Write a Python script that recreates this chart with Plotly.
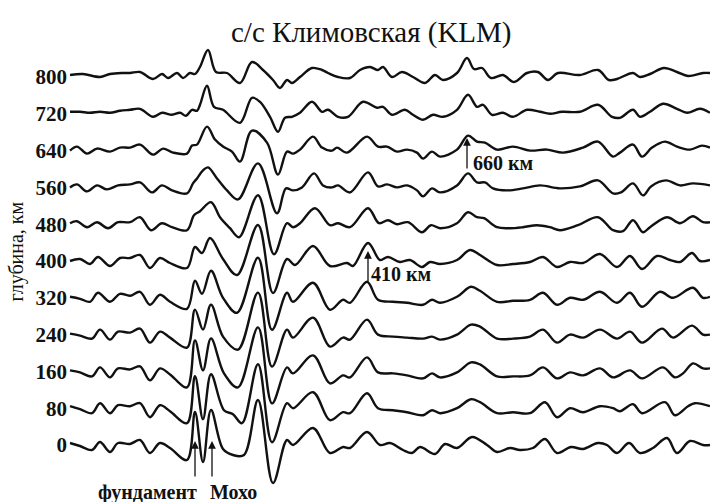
import plotly.graph_objects as go

# Depth labels (km) of the stacked receiver-function traces, top to bottom
DEPTHS = [800, 720, 640, 560, 480, 400, 320, 240, 160, 80, 0]

# Each trace: (time sample, relative amplitude)
TRACE_800 = [(70,2),(83,3),(100,0),(110,3),(123,4),(130,4),(140,5),(153,-2),(162,3),(168,-1),(177,4),(183,-1),(190,4),(195,3),(200,10),(208,27),(216,5),(227,4),(240,-6),(252,15),(263,7),(273,-3),(280,-11),(287,-3),(292,-6),(300,0),(312,9),(322,7),(328,4),(338,0),(350,-1),(360,7),(370,10),(378,7),(383,10),(392,0),(402,5),(413,0),(425,-6),(435,2),(443,-3),(457,4),(467,19),(474,8),(482,9),(491,-1),(503,2),(514,-5),(527,4),(538,5),(548,-3),(558,4),(580,2),(598,7),(609,-3),(617,-2),(633,4),(640,0),(650,3),(664,9),(677,5),(688,1),(703,4),(710,4)]
TRACE_720 = [(70,2),(80,2),(90,1),(100,2),(110,1),(120,3),(130,4),(140,5),(153,-3),(162,1),(172,-1),(180,1),(186,-2),(192,4),(197,3),(200,9),(207,28),(214,7),(223,4),(240,-9),(252,16),(260,12),(270,-3),(278,-18),(285,-4),(292,-3),(300,1),(312,12),(322,2),(328,4),(338,-3),(348,-3),(363,12),(377,6),(383,7),(392,-1),(405,4),(413,-1),(423,-6),(433,-1),(443,-3),(457,4),(468,19),(477,7),(483,9),(492,-1),(503,1),(513,-3),(527,4),(540,2),(550,0),(562,2),(580,2),(598,9),(612,-3),(620,-4),(633,4),(640,-3),(650,2),(663,10),(677,5),(687,1),(700,5),(710,1)]
TRACE_640 = [(70,0),(77,4),(87,-3),(97,2),(110,-1),(120,3),(130,3),(140,6),(153,-4),(163,2),(173,-2),(187,-3),(192,5),(197,6),(207,24),(215,11),(223,4),(232,-1),(240,-11),(252,20),(267,8),(278,-24),(287,-1),(293,-3),(300,1),(313,14),(322,3),(332,0),(337,3),(347,-2),(367,14),(378,4),(387,4),(397,-1),(407,1),(417,-2),(423,-8),(432,-1),(440,-6),(457,1),(468,15),(477,9),(485,8),(497,1),(513,4),(530,0),(547,1),(563,-2),(583,3),(598,9),(613,-6),(620,-2),(633,6),(642,-6),(652,3),(665,9),(677,4),(690,1),(702,5),(710,3)]
TRACE_560 = [(70,0),(77,3),(87,-4),(97,2),(107,-2),(118,2),(130,3),(140,5),(152,-5),(162,2),(172,-3),(187,-6),(193,4),(197,9),(203,17),(208,20),(217,9),(227,-3),(238,-12),(258,24),(277,-26),(286,-1),(293,-3),(302,0),(314,14),(323,2),(332,0),(338,2),(350,-5),(368,15),(378,1),(387,3),(397,0),(407,2),(417,-3),(423,-9),(432,-1),(440,-5),(457,2),(468,14),(477,5),(485,5),(493,-1),(507,-3),(523,-1),(540,2),(560,-1),(580,1),(598,7),(613,-6),(621,-5),(633,4),(643,-8),(651,1),(666,7),(680,2),(693,4),(710,2)]
TRACE_480 = [(70,1),(77,3),(87,-3),(97,2),(108,-4),(118,2),(130,2),(140,7),(151,-6),(162,1),(172,-3),(187,-6),(194,9),(200,13),(211,22),(220,7),(230,-4),(239,-13),(258,29),(274,-30),(287,1),(293,-3),(300,1),(315,16),(330,-1),(338,1),(350,-3),(368,16),(379,1),(388,4),(397,0),(408,2),(422,-8),(431,-1),(440,-4),(457,1),(468,12),(477,7),(484,6),(497,-3),(510,-4),(523,-3),(537,-1),(550,-3),(560,-6),(578,-1),(598,7),(613,-6),(623,-7),(633,4),(643,-8),(650,-3),(667,7),(680,1),(693,8),(703,2),(710,2)]
TRACE_400 = [(70,0),(80,2),(90,-3),(98,4),(110,-5),(120,3),(130,3),(140,6),(150,-7),(160,3),(170,-2),(187,-7),(195,14),(202,8),(210,23),(223,2),(237,-14),(258,36),(273,-32),(287,2),(295,-4),(313,15),(330,-5),(347,-2),(353,-5),(368,18),(380,1),(388,4),(400,-1),(410,1),(422,-6),(430,-1),(440,-3),(457,1),(470,11),(480,6),(497,-4),(513,-3),(530,-1),(543,4),(557,-6),(570,-1),(583,-2),(600,7),(617,-6),(630,5),(642,-8),(657,5),(670,1),(680,-1),(692,8),(700,0),(710,1)]
TRACE_320 = [(70,1),(80,-1),(90,-4),(98,5),(110,-4),(120,4),(130,2),(140,6),(150,-7),(160,3),(170,-4),(187,-11),(195,17),(202,4),(211,27),(223,0),(237,-15),(258,40),(272,-32),(287,5),(293,-4),(313,15),(330,-12),(343,-2),(350,-5),(367,16),(378,-2),(393,-4),(407,-5),(423,-7),(432,-2),(440,-5),(457,1),(471,11),(480,7),(497,-4),(513,-3),(530,-2),(543,5),(557,-7),(570,0),(583,-2),(600,6),(617,-5),(630,5),(642,-9),(660,6),(673,0),(693,10),(703,0),(710,1)]
TRACE_240 = [(70,1),(80,-1),(92,-4),(100,5),(110,-5),(118,3),(130,2),(140,6),(150,-8),(160,3),(170,-3),(187,-13),(195,25),(203,5),(211,30),(223,-2),(238,-15),(258,42),(272,-32),(287,5),(293,-3),(313,17),(330,-12),(343,-3),(350,-5),(367,15),(378,0),(393,-2),(407,-3),(423,-4),(432,-2),(440,-5),(457,0),(471,10),(480,8),(497,-4),(513,-4),(530,-2),(543,5),(557,-8),(570,0),(583,-3),(600,5),(617,-4),(630,3),(642,-8),(662,6),(673,-3),(692,9),(703,0),(710,0)]
TRACE_160 = [(70,1),(80,-1),(92,-5),(100,4),(110,-6),(118,3),(130,2),(140,5),(150,-9),(160,3),(170,-3),(187,-16),(195,31),(203,1),(211,33),(224,-2),(238,-16),(258,44),(272,-32),(287,4),(293,-2),(313,16),(330,-12),(343,-4),(350,-6),(367,14),(378,-1),(393,-2),(407,-4),(423,-7),(432,-2),(440,-6),(457,-1),(471,9),(480,7),(497,-5),(513,-5),(530,-4),(543,4),(557,-7),(570,-1),(583,-4),(600,3),(613,-6),(630,1),(642,-7),(663,4),(675,-6),(683,-2),(693,8),(703,3),(710,3)]
TRACE_80 = [(70,2),(80,-1),(92,-5),(100,5),(110,-5),(118,3),(130,2),(140,5),(150,-9),(160,3),(170,-3),(187,-15),(195,32),(203,-11),(211,34),(224,-2),(233,-6),(242,-15),(258,44),(272,-34),(287,5),(293,0),(313,16),(330,-12),(343,-4),(350,-5),(367,15),(378,0),(393,-2),(407,-4),(423,-7),(432,-2),(440,-5),(457,0),(471,9),(480,6),(497,-5),(513,-4),(530,-5),(545,6),(557,-9),(570,0),(583,-4),(600,2),(613,0),(620,-3),(633,4),(642,-5),(665,6),(675,-7),(688,2),(695,5),(710,2)]
TRACE_0 = [(70,2),(80,-1),(92,-5),(100,3),(110,-7),(118,2),(130,1),(140,5),(150,-8),(160,2),(170,-3),(187,-15),(195,33),(203,-17),(211,35),(223,-4),(233,-10),(244,-10),(258,45),(273,-38),(287,5),(293,0),(313,17),(330,-8),(343,-2),(350,-3),(367,13),(380,0),(390,2),(403,-5),(412,-8),(420,-2),(435,-9),(445,1),(457,-3),(472,8),(487,0),(497,-7),(510,-3),(520,-5),(533,-3),(545,6),(557,-8),(571,-2),(583,-4),(598,2),(607,0),(617,-8),(629,2),(640,-8),(653,-3),(667,7),(677,-8),(690,4),(703,0),(710,0)]

TRACES = [TRACE_800, TRACE_720, TRACE_640, TRACE_560, TRACE_480, TRACE_400,
          TRACE_320, TRACE_240, TRACE_160, TRACE_80, TRACE_0]

TITLE = "с/с Климовская (KLM)"
Y_LABEL = "глубина, км"

# amplitude gain: trace spacing of 80 km corresponds to ~36.8 amplitude units
GAIN = 80 / 36.8
KM_PER_PX = 1 / 0.46

def row(py):
    # convert a screen row (px) to depth-axis value for label placement
    return 800 - (py - 77) * KM_PER_PX

FONT = "Liberation Serif"
def bold(s):
    return "<b>" + s + "</b>"

fig = go.Figure()
for depth, tr in zip(DEPTHS, TRACES):
    fig.add_trace(go.Scatter(
        x=[p[0] for p in tr],
        y=[depth + p[1] * GAIN for p in tr],
        mode="lines",
        line=dict(color="#111111", width=2.4, shape="spline", smoothing=1.0),
        hoverinfo="skip", showlegend=False,
    ))

ann = []
ann.append(dict(x=371, y=row(32), xref="x", yref="y", text=TITLE, showarrow=False,
                font=dict(family=FONT, size=29, color="#111")))
ann.append(dict(x=(17 - 68) / 642, y=row(252), xref="paper", yref="y", text=Y_LABEL,
                textangle=-90, showarrow=False, xshift=-15,
                font=dict(family=FONT, size=20, color="#111")))
# markers
arrow = dict(showarrow=True, arrowhead=2, arrowsize=1.2, arrowwidth=1.3, arrowcolor="#111",
             ax=0, text="", xref="x", yref="y")
ann.append(dict(arrow, x=467, y=row(138), ay=32))
ann.append(dict(x=471, y=row(163), xref="x", yref="y", text=bold("660 км"), xanchor="left",
                showarrow=False, font=dict(family=FONT, size=20, color="#111")))
ann.append(dict(arrow, x=368, y=row(251), ay=32))
ann.append(dict(x=369, y=row(274), xref="x", yref="y", text=bold("410 км"), xanchor="left",
                showarrow=False, font=dict(family=FONT, size=20, color="#111")))
ann.append(dict(arrow, x=195, y=row(441), ay=37))
ann.append(dict(arrow, x=212, y=row(441), ay=37))
ann.append(dict(x=199, y=row(492), xref="x", yref="y", text=bold("фундамент"), xanchor="right",
                showarrow=False, font=dict(family=FONT, size=20, color="#111")))
ann.append(dict(x=208, y=row(492), xref="x", yref="y", text=bold("Мохо"), xanchor="left",
                showarrow=False, font=dict(family=FONT, size=20, color="#111")))

fig.update_layout(
    width=710, height=502,
    margin=dict(l=68, r=0, t=0, b=0),
    paper_bgcolor="white", plot_bgcolor="white",
    xaxis=dict(range=[68, 710], visible=False),
    yaxis=dict(range=[row(502), row(0)], tickvals=DEPTHS,
               ticktext=[bold(str(d)) for d in DEPTHS],
               showgrid=False, zeroline=False, showline=False, ticks="",
               tickfont=dict(family=FONT, size=21, color="#111")),
    annotations=ann,
)
fig.write_html("out.html")
